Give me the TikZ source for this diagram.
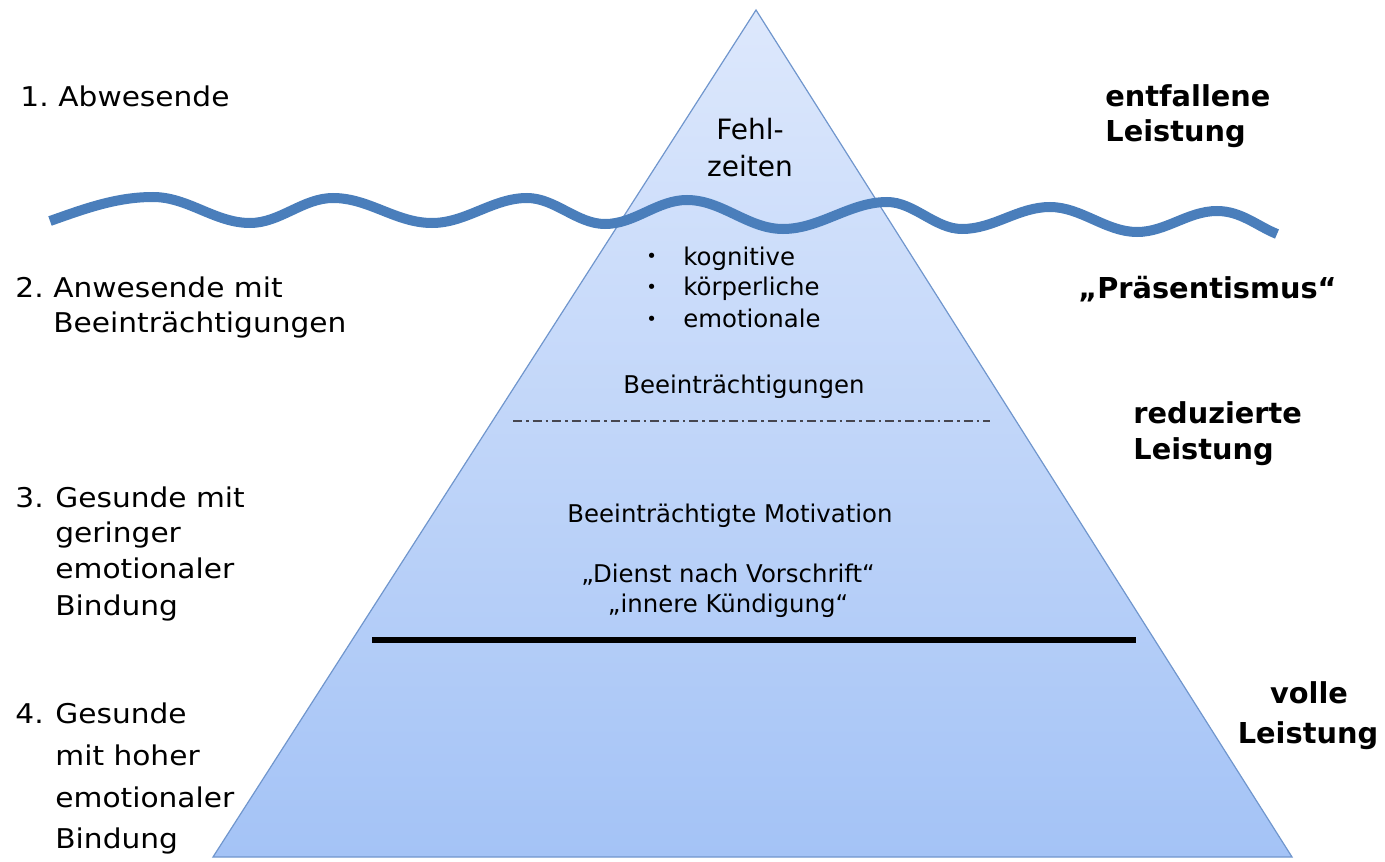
\documentclass[tikz,border=0pt]{standalone}
\usepackage{fontspec}
\setmainfont{DejaVu Sans}
\newfontfamily\widefont[FakeStretch=1.09]{DejaVu Sans}
\definecolor{tritop}{RGB}{221,232,252}
\definecolor{tribot}{RGB}{164,195,246}
\definecolor{triedge}{RGB}{112,150,205}
\definecolor{wavecol}{RGB}{74,126,187}
\definecolor{dashcol}{RGB}{70,70,80}
\begin{document}
\begin{tikzpicture}[x=0.5pt,y=-0.5pt,
  lbl/.style={inner sep=0pt, anchor=base west, font=\widefont\fontsize{13.6}{16}\selectfont},
  rbl/.style={inner sep=0pt, anchor=base west, font=\bfseries\fontsize{14.4}{17}\selectfont},
  rbc/.style={inner sep=0pt, anchor=base, font=\bfseries\fontsize{14.4}{17}\selectfont},
  inn/.style={inner sep=0pt, anchor=base, font=\fontsize{12.2}{14}\selectfont},
  innl/.style={inner sep=0pt, anchor=base west, font=\fontsize{12.2}{14}\selectfont},
  bul/.style={inner sep=0pt, anchor=base west, font=\fontsize{9}{10}\selectfont},
  big/.style={inner sep=0pt, anchor=base, font=\fontsize{14}{16}\selectfont},
  wave/.style={line width=5pt, color=wavecol},
  dashdot/.style={line width=1pt, color=dashcol, dash pattern=on 4.5pt off 2pt on 1.3pt off 2pt},
  thickline/.style={line width=2.6pt, color=black}
]
\useasboundingbox (0,0) rectangle (1385,861);
% triangle
\coordinate (apex) at (756,10);
\coordinate (bl) at (213,857);
\coordinate (br) at (1292,857);
\shade[top color=tritop, bottom color=tribot] (apex) -- (br) -- (bl) -- cycle;
\draw[triedge, line width=0.6pt, line join=miter] (apex) -- (br) -- (bl) -- cycle;

% separator lines
\coordinate (d1) at (513,421);
\coordinate (d2) at (990,421);
\draw[dashdot] (d1) -- (d2);
\coordinate (k1) at (372,640);
\coordinate (k2) at (1136,640);
\draw[thickline] (k1) -- (k2);

% wave
\coordinate (w0) at (50,221);
\coordinate (wend) at (1277,234);
\draw[wave] (w0)
  .. controls (84,209) and (116,197) .. (153,197)
  .. controls (188,197) and (215,223) .. (250,223)
  .. controls (280,223) and (303,198) .. (333,198)
  .. controls (369,198) and (396,223) .. (432,223)
  .. controls (466,223) and (493,198) .. (527,198)
  .. controls (555,198) and (577,224) .. (605,224)
  .. controls (635,224) and (657,200) .. (687,200)
  .. controls (722,200) and (748,229) .. (783,229)
  .. controls (820,229) and (850,202) .. (887,202)
  .. controls (914,202) and (935,229) .. (962,229)
  .. controls (994,229) and (1018,207) .. (1050,207)
  .. controls (1081,207) and (1106,232) .. (1137,232)
  .. controls (1166,232) and (1188,211) .. (1217,211)
  .. controls (1241,211) and (1257,226) .. (wend);

% left labels
\node[lbl] (n1) at (20,107) {1.};
\node[lbl] (l1) at (58,107) {Abwesende};
\node[lbl] (n2) at (15,297) {2.};
\node[lbl] (l2a) at (53,297) {Anwesende mit};
\node[lbl] (l2b) at (53,332) {Beeinträchtigungen};
\node[lbl] (n3) at (15,507) {3.};
\node[lbl] (l3a) at (55,507) {Gesunde mit};
\node[lbl] (l3b) at (55,542) {geringer};
\node[lbl] (l3c) at (55,578) {emotionaler};
\node[lbl] (l3d) at (55,615) {Bindung};
\node[lbl] (n4) at (15,723) {4.};
\node[lbl] (l4a) at (55,723) {Gesunde};
\node[lbl] (l4b) at (55,765) {mit hoher};
\node[lbl] (l4c) at (55,807) {emotionaler};
\node[lbl] (l4d) at (55,848) {Bindung};

% right labels
\node[rbl] (r1a) at (1105,107) {entfallene};
\node[rbl] (r1b) at (1105,142) {Leistung};
\node[rbl] (r2) at (1078,298) {„Präsentismus“};
\node[rbl] (r3a) at (1133,423) {reduzierte};
\node[rbl] (r3b) at (1133,459) {Leistung};
\node[rbc] (r4a) at (1309,703) {volle};
\node[rbc] (r4b) at (1308,743) {Leistung};

% inner texts
\node[big] (f1) at (750,140) {Fehl-};
\node[big] (f2) at (750,177) {zeiten};
\node[bul] (b1) at (646,263) {•};
\node[innl] (i1) at (683,265) {kognitive};
\node[bul] (b2) at (646,293) {•};
\node[innl] (i2) at (683,295) {körperliche};
\node[bul] (b3) at (646,325) {•};
\node[innl] (i3) at (683,327) {emotionale};
\node[inn] (be) at (744,393) {Beeinträchtigungen};
\node[inn] (mo) at (730,522) {Beeinträchtigte Motivation};
\node[inn] (dn) at (728,582) {„Dienst nach Vorschrift“};
\node[inn] (ik) at (728,612) {„innere Kündigung“};
\end{tikzpicture}
\end{document}
